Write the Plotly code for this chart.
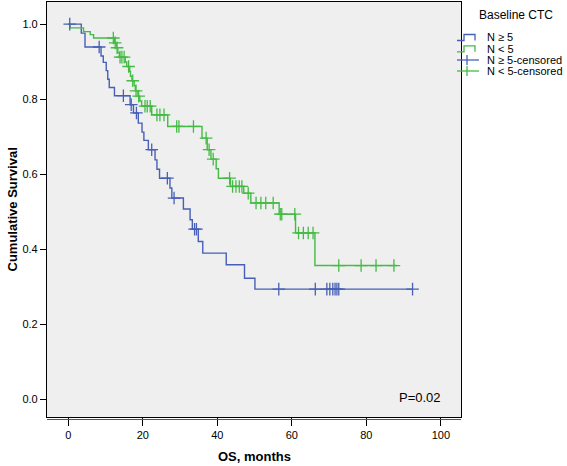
import plotly.graph_objects as go

# ---- data ----
blue_t = [0, 3.5, 4.5, 8.8, 9.4, 10.2, 10.6, 11.0, 12.4, 16.6, 17.5, 18.8, 19.8, 20.3,
          21.5, 23.3, 23.8, 24.5, 27.3, 27.8, 30.9, 32.7, 33.3, 34.9, 36.1, 42.4, 47.3,
          50.1, 92.4]
blue_s = [1.0, 0.976, 0.939, 0.915, 0.898, 0.876, 0.853, 0.831, 0.809, 0.785, 0.763, 0.736,
          0.712, 0.690, 0.665, 0.638, 0.613, 0.589, 0.563, 0.536, 0.507, 0.478, 0.453, 0.420,
          0.389, 0.358, 0.322, 0.293, 0.293]
blue_cens = [0.4, 8.3, 14.8, 16.9, 18.3, 22.4, 26.6, 28.4, 33.9, 34.4, 56.5, 66.3, 69.4,
             70.2, 71.0, 71.6, 72.1, 72.6, 92.4]

green_t = [0, 0.5, 4.1, 5.9, 6.8, 12.4, 12.9, 13.3, 13.7, 15.3, 15.7, 16.5, 16.7, 17.1,
           17.7, 18.0, 18.7, 19.2, 19.7, 22.4, 26.7, 35.9, 37.3, 38.3, 39.7, 40.3, 43.5,
           47.1, 49.0, 56.6, 61.0, 66.2, 88.2]
green_s = [1.0, 0.99, 0.98, 0.972, 0.963, 0.950, 0.937, 0.924, 0.912, 0.899, 0.887, 0.874,
           0.861, 0.849, 0.836, 0.822, 0.808, 0.795, 0.781, 0.758, 0.727, 0.696, 0.665,
           0.640, 0.614, 0.589, 0.567, 0.549, 0.523, 0.493, 0.443, 0.356, 0.356]
green_cens = [12.1, 12.6, 13.1, 13.9, 14.4, 15.0, 16.2, 17.3, 18.2, 18.9, 20.6, 21.2, 22.0,
              23.8, 24.6, 25.7, 29.1, 29.7, 33.6, 37.0, 37.8, 38.9, 43.3, 44.1, 45.0, 45.9,
              46.6, 48.3, 50.4, 51.7, 53.0, 55.0, 56.9, 57.3, 60.8, 61.8, 63.1, 64.4, 65.7,
              72.6, 78.6, 82.6, 87.4]

x_ticks = [0, 20, 40, 60, 80, 100]
y_ticks = [0.0, 0.2, 0.4, 0.6, 0.8, 1.0]
y_tick_text = ["0.0", "0.2", "0.4", "0.6", "0.8", "1.0"]

legend_title = "Baseline CTC"
names = ["N \u2265 5", "N < 5", "N \u2265 5-censored", "N < 5-censored"]
BLUE = "#4760b6"
GREEN = "#45bb45"
FONT = "Liberation Sans, Arial, sans-serif"

# layout geometry (pixels)
W, H = 567, 466
L, R, T, B = 47, 461, 2, 417


def px(x):
    return (x - L) / (R - L)


def py(y):
    return (B - y) / (B - T)


def surv_at(ts, ss, t):
    val = ss[0]
    for ti, si in zip(ts, ss):
        if ti <= t:
            val = si
    return val


fig = go.Figure()

for ts, ss, col in [(blue_t, blue_s, BLUE), (green_t, green_s, GREEN)]:
    fig.add_trace(go.Scatter(x=ts, y=ss, mode="lines", line=dict(color=col, width=1.4, shape="hv"),
                             showlegend=False, hoverinfo="skip"))

for ts, ss, cens, col in [(blue_t, blue_s, blue_cens, BLUE), (green_t, green_s, green_cens, GREEN)]:
    fig.add_trace(go.Scatter(x=cens, y=[surv_at(ts, ss, c) for c in cens], mode="markers",
                             marker=dict(symbol="cross-thin-open", size=9, color=col,
                                         line=dict(color=col, width=1.3)),
                             showlegend=False, hoverinfo="skip"))

# ---- manual legend (SPSS style, compact) ----
shapes = [dict(type="line", xref="paper", yref="paper", x0=0, x1=1,
               y0=py(B + 2.5), y1=py(B + 2.5), line=dict(color="#555", width=1))]
annotations = [
    dict(text=legend_title, xref="paper", yref="paper", x=px(477), y=py(15),
         xanchor="left", yanchor="middle", showarrow=False, font=dict(size=12)),
]
item_y = [37.5, 48.8, 60.0, 71.0]
item_col = [BLUE, GREEN, BLUE, GREEN]
for i, (name, yy, col) in enumerate(zip(names, item_y, item_col)):
    annotations.append(dict(text=name, xref="paper", yref="paper", x=px(485), y=py(yy),
                            xanchor="left", yanchor="middle", showarrow=False,
                            font=dict(size=11)))
    if i < 2:
        path = "M {a},{b} L {c},{b} L {c},{d} L {e},{d} L {e},{b}".format(
            a=px(457), b=py(yy + 3), c=px(464), d=py(yy - 3), e=px(475))
        shapes.append(dict(type="path", xref="paper", yref="paper", path=path,
                           line=dict(color=col, width=1.3)))
    else:
        shapes.append(dict(type="line", xref="paper", yref="paper", x0=px(457), x1=px(479),
                           y0=py(yy), y1=py(yy), line=dict(color=col, width=1.3)))
        shapes.append(dict(type="line", xref="paper", yref="paper", x0=px(467), x1=px(467),
                           y0=py(yy - 5), y1=py(yy + 5), line=dict(color=col, width=1.3)))

annotations += [
    dict(text="<b>Cumulative Survival</b>", xref="paper", yref="paper", x=px(12), y=0.5,
         xanchor="center", yanchor="middle", textangle=-90, showarrow=False,
         font=dict(size=13)),
    dict(text="<b>OS, months</b>", xref="paper", yref="paper", x=0.5, y=py(456),
         xanchor="center", yanchor="middle", showarrow=False, font=dict(size=13)),
    dict(text="P=0.02", xref="x", yref="y", x=94.4, y=0.005, xanchor="center",
         yanchor="middle", showarrow=False, font=dict(size=13)),
]

fig.update_layout(
    width=W, height=H,
    margin=dict(l=L, r=W - R, t=T, b=H - B),
    paper_bgcolor="white",
    plot_bgcolor="#efefef",
    showlegend=False,
    font=dict(family=FONT, size=11, color="black"),
    xaxis=dict(range=[-5.7, 105.4], tickvals=x_ticks, showgrid=False, zeroline=False,
               showline=True, mirror=True, linecolor="black", linewidth=1.2,
               ticks="outside", ticklen=8, tickcolor="black", tickfont=dict(size=11),
               automargin=False),
    yaxis=dict(range=[-0.048, 1.059], tickvals=y_ticks, ticktext=y_tick_text, showgrid=False,
               zeroline=False, showline=True, mirror=True, linecolor="black", linewidth=1.2,
               ticks="outside", ticklen=6, tickcolor="black", tickfont=dict(size=11),
               automargin=False),
    annotations=annotations,
    shapes=shapes,
)

fig.write_html("out.html", config={"displayModeBar": False},
               post_script="document.body.style.margin='0px';")
